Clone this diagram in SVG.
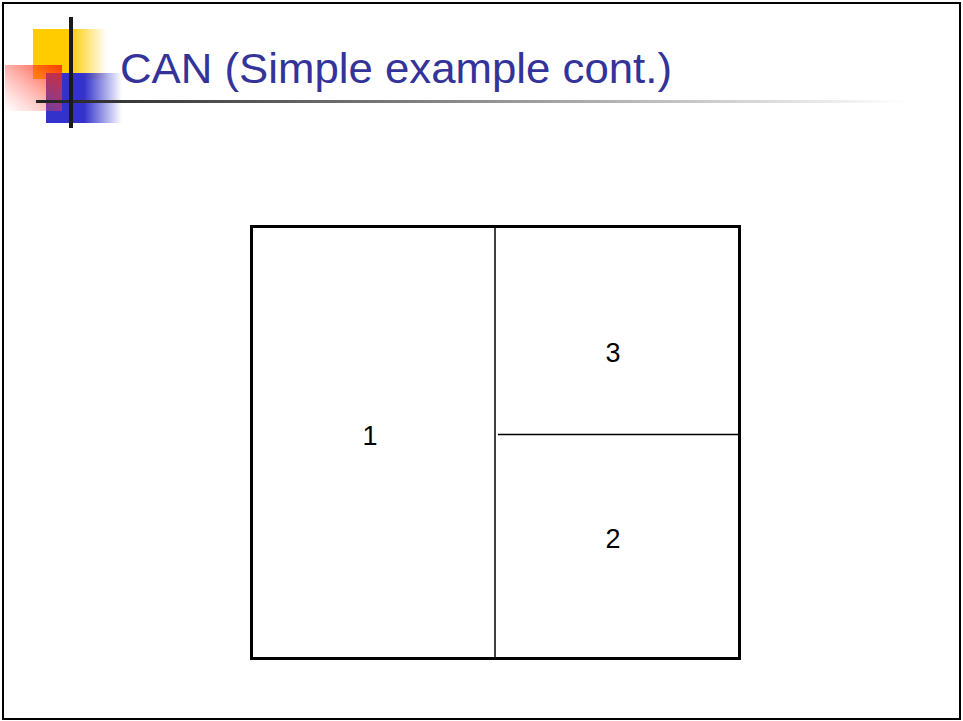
<svg xmlns="http://www.w3.org/2000/svg" width="963" height="721" viewBox="0 0 963 721">
<style>
.lbl{font-family:"Liberation Sans",Arial,sans-serif;font-size:27px;fill:#000;text-anchor:middle}
.title{font-family:"Liberation Sans",Arial,sans-serif;font-size:42px;fill:#333399}
</style>
<defs>
<linearGradient id="gy" x1="0" y1="0" x2="1" y2="0"><stop offset="0" stop-color="#ffcc00"/><stop offset="0.5" stop-color="#ffcc00"/><stop offset="1" stop-color="#ffcc00" stop-opacity="0"/></linearGradient>
<linearGradient id="gb" x1="0" y1="0" x2="1" y2="0"><stop offset="0" stop-color="#3333cc"/><stop offset="0.5" stop-color="#3333cc"/><stop offset="1" stop-color="#3333cc" stop-opacity="0"/></linearGradient>
<linearGradient id="gr" x1="1" y1="0" x2="0" y2="1"><stop offset="0" stop-color="#ff2200"/><stop offset="1" stop-color="#ff6666" stop-opacity="0"/></linearGradient>
<linearGradient id="gl" x1="0" y1="0" x2="1" y2="0"><stop offset="0" stop-color="#222"/><stop offset="0.4" stop-color="#777"/><stop offset="1" stop-color="#fff"/></linearGradient>
</defs>
<rect x="0" y="0" width="963" height="721" fill="#fff"/>
<rect x="3" y="3" width="957" height="716" fill="none" stroke="#000" stroke-width="2"/>
<g id="logo">
<rect x="33" y="29" width="74" height="50" fill="url(#gy)"/>
<rect x="46" y="73" width="76" height="50" fill="url(#gb)"/>
<rect x="5" y="65" width="57" height="46" fill="url(#gr)" opacity="0.85"/>
<rect x="36" y="100" width="870" height="3" fill="url(#gl)"/>
<rect x="69" y="17" width="4" height="111" fill="#1a1a1a"/>
</g>
<text class="title" x="120" y="83" textLength="552" lengthAdjust="spacingAndGlyphs">CAN (Simple example cont.)</text>
<g id="box">
<rect x="251.5" y="226.5" width="488" height="432" fill="none" stroke="#000" stroke-width="3"/>
</g>
<g id="connectors">
<line x1="495" y1="226" x2="495" y2="659" stroke="#000" stroke-width="1.5"/>
<line x1="498" y1="434.5" x2="738" y2="434.5" stroke="#000" stroke-width="1.5"/>
</g>
<g id="zone1"><text class="lbl" x="370" y="445">1</text></g>
<g id="zone3"><text class="lbl" x="613" y="362">3</text></g>
<g id="zone2"><text class="lbl" x="613" y="548">2</text></g>
</svg>
